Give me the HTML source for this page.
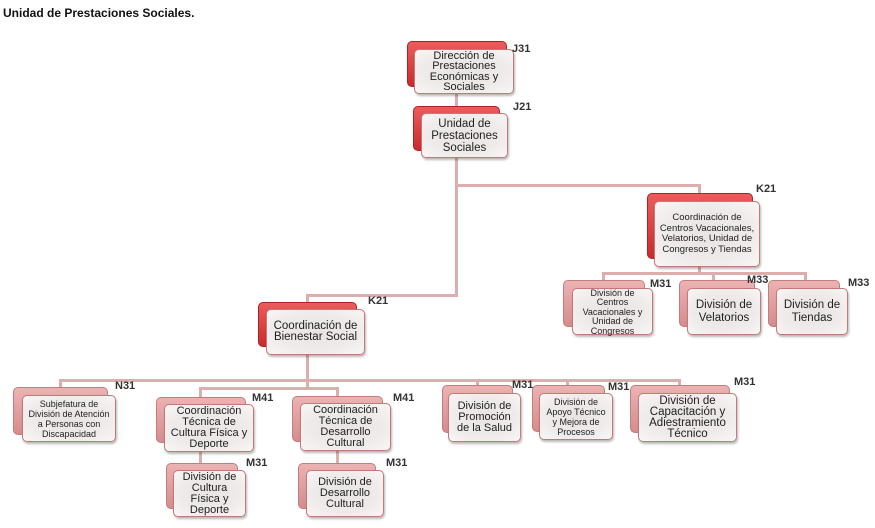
<!DOCTYPE html>
<html><head><meta charset="utf-8">
<style>
*{box-sizing:border-box;margin:0;padding:0}
body{width:875px;height:528px;background:#fff;position:relative;overflow:hidden;font-family:"Liberation Sans",Arial,sans-serif;color:#1e1e1e}
.t{position:absolute;left:3px;top:6px;font-weight:bold;font-size:12px;color:#111}
.l{position:absolute;background:#dcaeae}
.b{position:absolute;border-radius:5px}
.r{background:linear-gradient(#ec5c5c,#c82c2c);border:1px solid #b02222}
.p{background:linear-gradient(#ecb2b2,#d68c8c);border:1px solid #c27e7e}
.f{position:absolute;border-radius:5px;border:1px solid #c67878;background:radial-gradient(ellipse at center,#e9e4e4 0%,#efebeb 60%,#f9f6f6 100%);box-shadow:1px 2px 2px rgba(0,0,0,.28);display:flex;align-items:center;justify-content:center;text-align:center}
.k{position:absolute;font-weight:bold;font-size:11px;line-height:12px;color:#333}
</style></head><body>
<div class="t">Unidad de Prestaciones Sociales.</div>

<!-- connectors -->
<div class="l" style="left:455px;top:94px;width:3px;height:20px"></div>
<div class="l" style="left:455px;top:158px;width:3px;height:139px"></div>
<div class="l" style="left:455px;top:184px;width:246px;height:3px"></div>
<div class="l" style="left:698px;top:184px;width:3px;height:17px"></div>
<div class="l" style="left:306px;top:294px;width:152px;height:3px"></div>
<div class="l" style="left:306px;top:294px;width:3px;height:16px"></div>
<div class="l" style="left:698px;top:266px;width:3px;height:9px"></div>
<div class="l" style="left:602px;top:272px;width:205px;height:3px"></div>
<div class="l" style="left:602px;top:272px;width:3px;height:16px"></div>
<div class="l" style="left:712px;top:272px;width:3px;height:16px"></div>
<div class="l" style="left:804px;top:272px;width:3px;height:16px"></div>
<div class="l" style="left:306px;top:354px;width:3px;height:36px"></div>
<div class="l" style="left:59px;top:379px;width:622px;height:3px"></div>
<div class="l" style="left:59px;top:379px;width:3px;height:16px"></div>
<div class="l" style="left:199px;top:387px;width:140px;height:3px"></div>
<div class="l" style="left:199px;top:387px;width:3px;height:17px"></div>
<div class="l" style="left:336px;top:387px;width:3px;height:16px"></div>
<div class="l" style="left:199px;top:450px;width:3px;height:20px"></div>
<div class="l" style="left:336px;top:450px;width:3px;height:20px"></div>
<div class="l" style="left:476px;top:379px;width:3px;height:14px"></div>
<div class="l" style="left:566px;top:379px;width:3px;height:14px"></div>
<div class="l" style="left:678px;top:379px;width:3px;height:14px"></div>

<!-- J31 -->
<div class="b r" style="left:407px;top:41px;width:100px;height:46px"></div>
<div class="f" style="left:414px;top:49px;width:100px;height:45px;font-size:11px;line-height:10.5px">Dirección de<br>Prestaciones<br>Económicas y<br>Sociales</div>
<div class="k" style="left:512px;top:43px">J31</div>

<!-- J21 -->
<div class="b r" style="left:413px;top:106px;width:87px;height:45px"></div>
<div class="f" style="left:421px;top:113px;width:87px;height:45px;font-size:11.5px;line-height:12px">Unidad de<br>Prestaciones<br>Sociales</div>
<div class="k" style="left:513px;top:101px">J21</div>

<!-- K21 right -->
<div class="b r" style="left:647px;top:193px;width:106px;height:66px"></div>
<div class="f" style="left:654px;top:201px;width:106px;height:66px;font-size:9.5px;line-height:10.5px">Coordinación de<br>Centros Vacacionales,<br>Velatorios, Unidad de<br>Congresos y Tiendas</div>
<div class="k" style="left:756px;top:183px">K21</div>

<!-- M31 centros -->
<div class="b p" style="left:563px;top:280px;width:82px;height:47px"></div>
<div class="f" style="left:572px;top:288px;width:81px;height:47px;font-size:9px;line-height:9.4px;align-items:flex-start;padding-top:0px">División de<br>Centros<br>Vacacionales y<br>Unidad de<br>Congresos</div>
<div class="k" style="left:650px;top:278px">M31</div>

<!-- M33 velatorios -->
<div class="b p" style="left:679px;top:280px;width:76px;height:47px"></div>
<div class="f" style="left:687px;top:288px;width:74px;height:47px;font-size:11.5px;line-height:12.5px">División de<br>Velatorios</div>
<div class="k" style="left:747px;top:274px">M33</div>

<!-- M33 tiendas -->
<div class="b p" style="left:768px;top:280px;width:72px;height:47px"></div>
<div class="f" style="left:776px;top:288px;width:72px;height:47px;font-size:11.5px;line-height:12.5px">División de<br>Tiendas</div>
<div class="k" style="left:848px;top:277px">M33</div>

<!-- K21 bienestar -->
<div class="b r" style="left:258px;top:302px;width:99px;height:45px"></div>
<div class="f" style="left:266px;top:309px;width:99px;height:46px;font-size:11.5px;line-height:11.5px">Coordinación de<br>Bienestar Social</div>
<div class="k" style="left:368px;top:295px">K21</div>

<!-- N31 -->
<div class="b p" style="left:13px;top:387px;width:95px;height:48px"></div>
<div class="f" style="left:22px;top:395px;width:94px;height:47px;font-size:9px;line-height:10px">Subjefatura de<br>División de Atención<br>a Personas con<br>Discapacidad</div>
<div class="k" style="left:115px;top:380px">N31</div>

<!-- M41 cultura fisica -->
<div class="b p" style="left:156px;top:397px;width:90px;height:46px"></div>
<div class="f" style="left:164px;top:404px;width:90px;height:48px;font-size:11px;line-height:11px">Coordinación<br>Técnica de<br>Cultura Física y<br>Deporte</div>
<div class="k" style="left:252px;top:392px">M41</div>

<!-- M41 desarrollo -->
<div class="b p" style="left:292px;top:396px;width:91px;height:46px"></div>
<div class="f" style="left:300px;top:403px;width:91px;height:48px;font-size:11px;line-height:11px">Coordinación<br>Técnica de<br>Desarrollo<br>Cultural</div>
<div class="k" style="left:393px;top:392px">M41</div>

<!-- M31 div cultura fisica -->
<div class="b p" style="left:166px;top:463px;width:72px;height:46px"></div>
<div class="f" style="left:173px;top:470px;width:73px;height:47px;font-size:11px;line-height:11px">División de<br>Cultura<br>Física y<br>Deporte</div>
<div class="k" style="left:246px;top:457px">M31</div>

<!-- M31 div desarrollo -->
<div class="b p" style="left:298px;top:463px;width:78px;height:46px"></div>
<div class="f" style="left:306px;top:470px;width:78px;height:47px;font-size:11px;line-height:11px">División de<br>Desarrollo<br>Cultural</div>
<div class="k" style="left:386px;top:457px">M31</div>

<!-- M31 promocion -->
<div class="b p" style="left:442px;top:385px;width:71px;height:48px"></div>
<div class="f" style="left:448px;top:393px;width:73px;height:49px;font-size:11px;line-height:11px">División de<br>Promoción<br>de la Salud</div>
<div class="k" style="left:512px;top:379px">M31</div>

<!-- M31 apoyo -->
<div class="b p" style="left:532px;top:385px;width:73px;height:47px"></div>
<div class="f" style="left:539px;top:393px;width:74px;height:47px;font-size:9px;line-height:10px">División de<br>Apoyo Técnico<br>y Mejora de<br>Procesos</div>
<div class="k" style="left:608px;top:381px">M31</div>

<!-- M31 capacitacion -->
<div class="b p" style="left:630px;top:385px;width:100px;height:48px"></div>
<div class="f" style="left:638px;top:393px;width:99px;height:49px;font-size:11.5px;line-height:11px">División de<br>Capacitación y<br>Adiestramiento<br>Técnico</div>
<div class="k" style="left:734px;top:376px">M31</div>

</body></html>
